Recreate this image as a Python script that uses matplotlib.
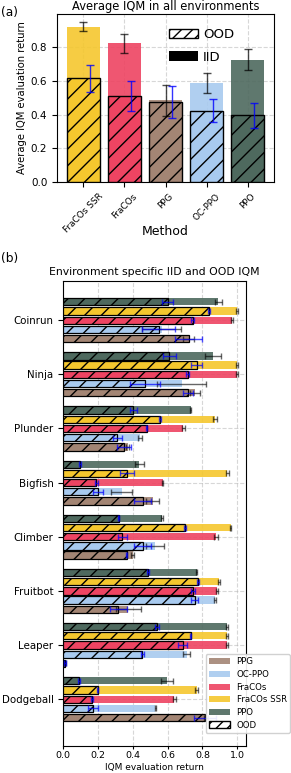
import numpy as np
import matplotlib
matplotlib.use("Agg")
from matplotlib import pyplot as plt
from matplotlib.patches import Patch

# panel (a): average over environments
methods_a = ["FraCOs SSR", "FraCOs", "PPG", "OC-PPO", "PPO"]
iid_a = [0.923, 0.824, 0.485, 0.588, 0.727]
iid_a_err = [0.028, 0.057, 0.09, 0.059, 0.063]
ood_a = [0.616, 0.509, 0.473, 0.424, 0.396]
ood_a_err = [0.082, 0.089, 0.095, 0.069, 0.074]

# panel (b): per environment
envs = ["Coinrun", "Ninja", "Plunder", "Bigfish", "Climber", "Fruitbot", "Leaper", "Dodgeball"]
methods_b = ["PPG", "OC-PPO", "FraCOs", "FraCOs SSR", "PPO"]
iid_b = {
    "PPG":        [0.72, 0.757, 0.37, 0.513, 0.398, 0.374, 0.01, 0.82],
    "OC-PPO":     [0.565, 0.68, 0.44, 0.335, 0.527, 0.872, 0.71, 0.53],
    "FraCOs":     [0.97, 1.0, 0.69, 0.571, 0.877, 0.885, 0.94, 0.638],
    "FraCOs SSR": [1.0, 1.0, 0.872, 0.944, 0.962, 0.897, 0.94, 0.766],
    "PPO":        [0.89, 0.862, 0.732, 0.437, 0.567, 0.766, 0.94, 0.594],
}
iid_b_err = {
    "PPG":        [0.03, 0.03, 0.01, 0.035, 0.01, 0.07, 0.005, 0.01],
    "OC-PPO":     [0.11, 0.14, 0.01, 0.06, 0.05, 0.005, 0.02, 0.005],
    "FraCOs":     [0.005, 0.005, 0.01, 0.005, 0.01, 0.005, 0.005, 0.01],
    "FraCOs SSR": [0.005, 0.005, 0.01, 0.01, 0.005, 0.005, 0.005, 0.01],
    "PPO":        [0.02, 0.045, 0.005, 0.025, 0.005, 0.005, 0.005, 0.035],
}
ood_b = {
    "PPG":        [0.72, 0.718, 0.35, 0.456, 0.364, 0.316, 0.01, 0.815],
    "OC-PPO":     [0.548, 0.47, 0.31, 0.2, 0.456, 0.757, 0.455, 0.172],
    "FraCOs":     [0.743, 0.715, 0.479, 0.19, 0.34, 0.747, 0.686, 0.167],
    "FraCOs SSR": [0.837, 0.766, 0.556, 0.368, 0.70, 0.776, 0.732, 0.197],
    "PPO":        [0.6, 0.61, 0.402, 0.096, 0.318, 0.489, 0.54, 0.092],
}
ood_b_err = {
    "PPG":        [0.075, 0.03, 0.04, 0.05, 0.005, 0.05, 0.005, 0.065],
    "OC-PPO":     [0.093, 0.086, 0.025, 0.03, 0.05, 0.02, 0.01, 0.03],
    "FraCOs":     [0.01, 0.01, 0.005, 0.01, 0.025, 0.01, 0.025, 0.005],
    "FraCOs SSR": [0.005, 0.03, 0.005, 0.04, 0.005, 0.005, 0.005, 0.005],
    "PPO":        [0.03, 0.036, 0.02, 0.005, 0.005, 0.005, 0.01, 0.005],
}

colors = {
    "FraCOs SSR": "#F5C72E",
    "FraCOs": "#EE4462",
    "PPG": "#A38574",
    "OC-PPO": "#A8CAEF",
    "PPO": "#4E695E",
}

fig = plt.figure(figsize=(2.91, 7.73), dpi=100)

# ---- (a)
ax1 = fig.add_axes([0.196, 0.7646, 0.746, 0.2173])
x = np.arange(len(methods_a))
cols_a = [colors[m] for m in methods_a]
ax1.bar(x, iid_a, width=0.8, color=cols_a, alpha=0.9, zorder=2)
ax1.bar(x, ood_a, width=0.8, color=cols_a, edgecolor="black", hatch="//", linewidth=1, zorder=3)
ax1.errorbar(x, iid_a, yerr=iid_a_err, fmt="none", ecolor="black", alpha=0.7, capsize=3, elinewidth=1, zorder=4)
ax1.errorbar(x + 0.15, ood_a, yerr=ood_a_err, fmt="none", ecolor="blue", alpha=0.8, capsize=3, elinewidth=1, zorder=4)
ax1.set_xticks(x)
ax1.set_xticklabels(methods_a, rotation=45, fontsize=6.4)
ax1.tick_params(axis="y", labelsize=7.5)
ax1.set_ylabel("Average IQM evaluation return", fontsize=7.2, labelpad=3)
ax1.set_xlabel("Method", fontsize=9, labelpad=-7)
ax1.set_title("Average IQM in all environments", fontsize=8.3, pad=3)
ax1.grid(True, linestyle="--", alpha=0.5, zorder=0)
ax1.set_axisbelow(True)
leg_a = [Patch(facecolor="white", edgecolor="black", hatch="///", label="OOD"),
         Patch(facecolor="black", label="IID")]
ax1.legend(handles=leg_a, loc="upper right", frameon=False, fontsize=9.5,
           bbox_to_anchor=(0.87, 0.985), handlelength=2.2, handletextpad=0.4,
           labelspacing=0.7)
fig.text(0.005, 0.992, "(a)", fontsize=8.8, va="top")

# ---- (b)
ax2 = fig.add_axes([0.2175, 0.0353, 0.6275, 0.6016])
ypos = np.arange(len(envs))[::-1].astype(float)
step = 0.17
for i, m in enumerate(methods_b):
    y = ypos + (i - 2) * step
    ax2.barh(y, iid_b[m], height=0.135, color=colors[m], alpha=0.9, zorder=2)
    ax2.barh(y, ood_b[m], height=0.135, color=colors[m], edgecolor="black", hatch="//", linewidth=0.9, zorder=3)
    ax2.errorbar(iid_b[m], y, xerr=iid_b_err[m], fmt="none", ecolor="black", alpha=0.6, capsize=2, elinewidth=1, zorder=4)
    ax2.errorbar(ood_b[m], y, xerr=ood_b_err[m], fmt="none", ecolor="blue", alpha=0.7, capsize=2, elinewidth=1, zorder=4)
ax2.set_yticks(ypos)
ax2.set_yticklabels(envs, fontsize=7.4)
ax2.set_ylim(-0.86, 7.73)
ax2.set_xlim(0, 1.05)
ax2.tick_params(axis="x", labelsize=6.8, length=2.5, pad=1.5)
ax2.set_xlabel("IQM evaluation return", fontsize=6.5, labelpad=2)
ax2.set_title("Environment specific IID and OOD IQM", fontsize=7.8, pad=4)
ax2.grid(True, linestyle="--", alpha=0.5, zorder=0)
ax2.set_axisbelow(True)
leg_b = [Patch(facecolor=colors[m], alpha=0.9, label=m) for m in methods_b]
leg_b.append(Patch(facecolor="white", edgecolor="black", hatch="///", label="OOD"))
ax2.legend(handles=leg_b, loc="lower right", fontsize=6.2, bbox_to_anchor=(0.997, 0.0518),
           bbox_transform=fig.transFigure, borderaxespad=0, handlelength=2.4,
           labelspacing=0.42, framealpha=0.9)
fig.text(0.005, 0.674, "(b)", fontsize=8.8, va="top")

fig.savefig("out.png", dpi=100)
